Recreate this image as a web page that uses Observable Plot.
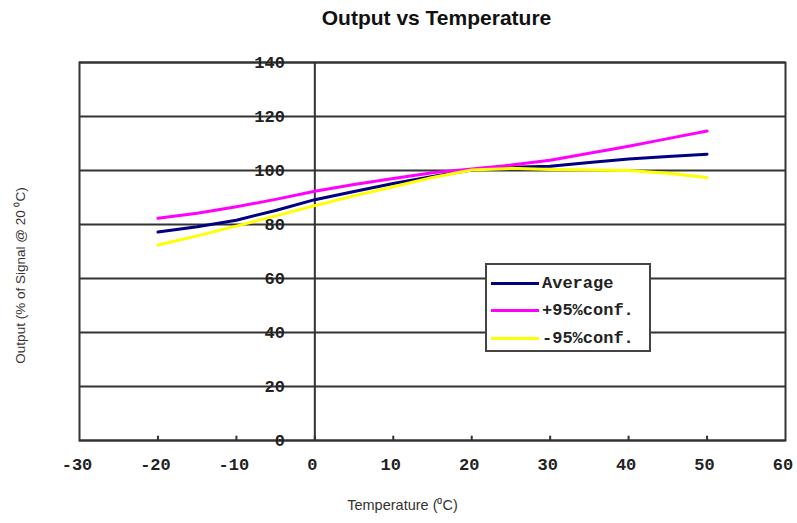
<!DOCTYPE html>
<html><head><meta charset="utf-8">
<script src="https://cdn.jsdelivr.net/npm/d3@7"></script>
<script src="https://cdn.jsdelivr.net/npm/@observablehq/plot@0.6"></script>
<style>
body{margin:0;background:#fff;}
#wrap{position:relative;width:797px;height:523px;}
.legend{position:absolute;left:485px;top:263px;width:166px;height:89px;background:#fff;border:2px solid #444;box-sizing:border-box;font-family:"Liberation Mono";font-weight:bold;font-size:17px;color:#222;}
.row{position:absolute;left:4px;height:18px;display:flex;align-items:center;}
.sw{width:48px;height:3px;margin-right:3px;}
</style></head><body><div id="wrap"></div>
<script>
const temps   = [-20, -15, -10, -5, 0, 5, 10, 15, 20, 25, 30, 35, 40, 45, 50];
const average = [77.2, 79.2, 81.6, 85.2, 89.2, 92.2, 95.2, 97.8, 100.2, 101.2, 101.6, 103, 104.3, 105.2, 106];
const plus95  = [82.3, 84.2, 86.6, 89.3, 92.3, 94.8, 97.0, 99.2, 100.6, 102, 103.8, 106.4, 109, 111.8, 114.6];
const minus95 = [72.4, 75.8, 79.4, 83.2, 87.0, 90.6, 94.0, 97.4, 100.2, 100.8, 100.4, 100.2, 100.0, 99.0, 97.4];
const seriesNames  = ["Average", "+95%conf.", "-95%conf."];
const seriesColors = ["#000080", "#ff00ff", "#ffff00"];
const xTicks = [-30, -20, -10, 0, 10, 20, 30, 40, 50, 60];
const yTicks = [0, 20, 40, 60, 80, 100, 120, 140];
const title = "Output vs Temperature";
const xTitle = "Temperature (\u2070C)";
const yTitle = "Output (% of Signal @ 20 \u2070C)";

const seriesValues = [average, plus95, minus95];
const data = [];
seriesNames.forEach((s, i) => temps.forEach((t, j) => data.push({series: s, t, v: seriesValues[i][j]})));

const mono = {fontFamily: "Liberation Mono", fontWeight: "bold", fontSize: 17, fill: "#222"};

const chart = Plot.plot({
  width: 797, height: 523,
  marginLeft: 79, marginRight: 12, marginTop: 62, marginBottom: 83,
  x: {domain: [-30, 60], axis: null},
  y: {domain: [0, 140], axis: null},
  color: {domain: seriesNames, range: seriesColors},
  marks: [
    Plot.ruleY(yTicks, {stroke: "#333", strokeWidth: 2}),
    Plot.ruleX([0], {stroke: "#333", strokeWidth: 2}),
    Plot.ruleX(xTicks.filter(d => d > -30 && d < 60), {x: d => d, y1: 0, y2: 1.6, stroke: "#333", strokeWidth: 2}),
    Plot.frame({stroke: "#333", strokeWidth: 2}),
    Plot.line(data, {x: "t", y: "v", z: "series", stroke: "series", strokeWidth: 3}),
    Plot.text(yTicks, {x: 0, y: d => d, dx: -30, textAnchor: "end", ...mono}),
    Plot.text(xTicks, {x: d => d, frameAnchor: "bottom", dy: 29, dx: -2.5, ...mono}),
    Plot.text([title], {frameAnchor: "top", dy: -52, dx: 4, fontFamily: "Liberation Sans", fontWeight: "bold", fontSize: 21, fill: "#111"}),
    Plot.text([xTitle], {frameAnchor: "bottom", dy: 69, dx: -30, fontFamily: "Liberation Sans", fontSize: 14.5, fill: "#333"}),
    Plot.text([yTitle], {frameAnchor: "left", textAnchor: "middle", dx: -59, dy: 24, rotate: -90, fontFamily: "Liberation Sans", fontSize: 13.5, fill: "#333"})
  ]
});
const wrap = document.getElementById("wrap");
wrap.appendChild(chart);

const legend = document.createElement("div");
legend.className = "legend";
const rowTops = [9, 36, 64];
seriesNames.forEach((s, i) => {
  const row = document.createElement("div");
  row.className = "row";
  row.style.top = rowTops[i] + "px";
  const sw = document.createElement("div");
  sw.className = "sw";
  sw.style.background = seriesColors[i];
  const lab = document.createElement("span");
  lab.textContent = s;
  row.appendChild(sw); row.appendChild(lab);
  legend.appendChild(row);
});
wrap.appendChild(legend);
</script>
</body></html>
